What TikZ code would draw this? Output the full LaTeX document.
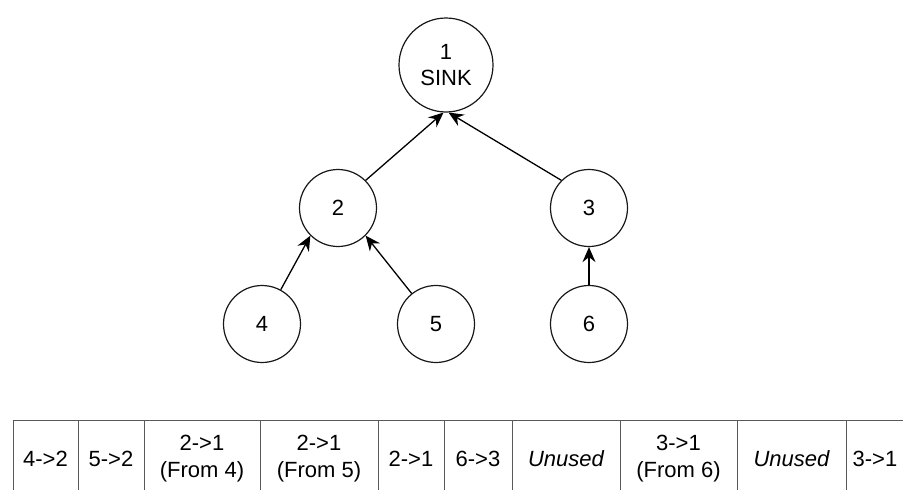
\documentclass[tikz,border=0pt]{standalone}
\usepackage{fontspec}
\setmainfont{Liberation Sans}
\usetikzlibrary{arrows.meta}
\tikzset{
  vert/.style={circle, draw=black!90, line width=1.2pt, inner sep=0pt, minimum size=77pt, font=\fontsize{22}{26}\selectfont, align=center},
  sinkvert/.style={vert, minimum size=94pt},
  edge/.style={draw=black, line width=1.3pt, -{Stealth[length=15pt,width=13pt,inset=5pt]}},
  cell/.style={rectangle, draw=black!65, line width=1pt, inner sep=0pt, minimum height=78pt, font=\fontsize{22}{27}\selectfont, align=center}
}
\begin{document}
\begin{tikzpicture}[x=1pt,y=-1pt]
\useasboundingbox (0,0) rectangle (903,490);
\clip (0,0) rectangle (903,490);
\fill[white] (0,0) rectangle (903,490);
% tree
\node[sinkvert] (n1) at (446,65) {1\\SINK};
\node[vert] (n2) at (338,208) {2};
\node[vert] (n3) at (589,208) {3};
\node[vert] (n4) at (262,324) {4};
\node[vert] (n5) at (436,324) {5};
\node[vert] (n6) at (589,324) {6};
\draw[edge] (n4) -- (n2.225);
\draw[edge] (n5) -- (n2.-45);
\draw[edge] (n2.45) -- (n1.-93);
\draw[edge] (n3.135) -- (n1.-87);
\draw[edge] (n6) -- (n3);
% table
\node[cell, minimum width=65pt] (c1) at (45.5,459) {4->2};
\node[cell, minimum width=66pt] (c2) at (111,459) {5->2};
\node[cell, minimum width=116pt] (c3) at (202,459) {2->1\\(From 4)};
\node[cell, minimum width=118pt] (c4) at (319,459) {2->1\\(From 5)};
\node[cell, minimum width=66pt] (c5) at (411,459) {2->1};
\node[cell, minimum width=68pt] (c6) at (478,459) {6->3};
\node[cell, minimum width=108pt] (c7) at (566,459) {\itshape Unused};
\node[cell, minimum width=117pt] (c8) at (678.5,459) {3->1\\(From 6)};
\node[cell, minimum width=109pt] (c9) at (791.5,459) {\itshape Unused};
\node[cell, minimum width=58pt] (c10) at (875,459) {3->1};
\end{tikzpicture}
\end{document}
